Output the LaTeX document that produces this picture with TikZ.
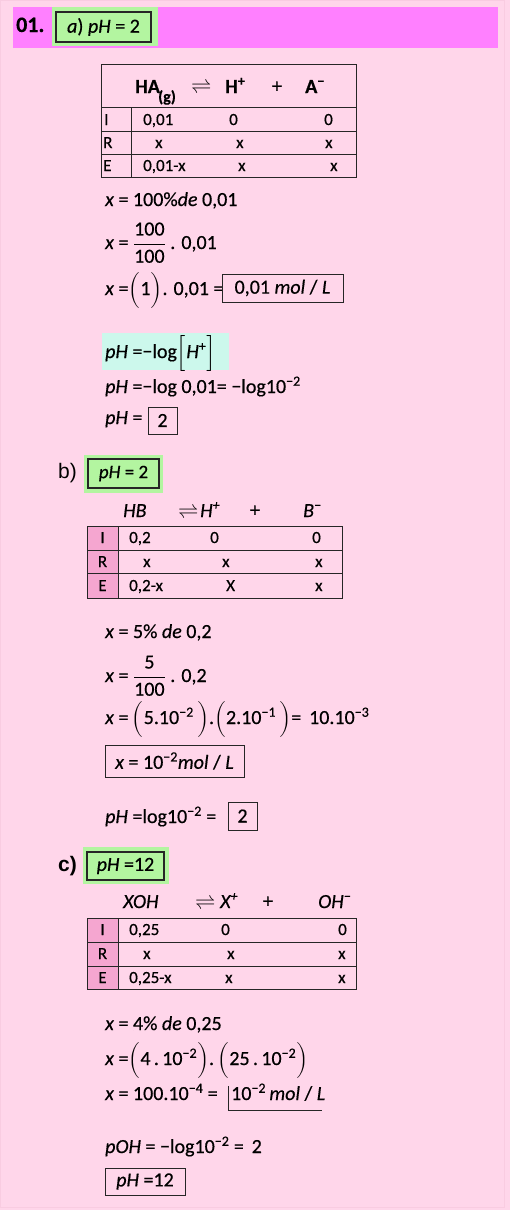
\documentclass[tikz,border=0pt]{standalone}
\usepackage{amsmath}
\usepackage{fontspec}
\usepackage{unicode-math}
\setmainfont{Carlito}[FakeBold=0.5]
\setmathfont{Latin Modern Math}
\newfontfamily\arialf{Liberation Sans}
\definecolor{bgpink}{HTML}{FFD6EA}
\definecolor{edgepink}{HTML}{F9CCE1}
\definecolor{barmag}{HTML}{FF80FF}
\definecolor{lgreen}{HTML}{B3F5A0}
\definecolor{mint}{HTML}{CCF8EC}
\definecolor{cellpink}{HTML}{F5A6D0}
\newcommand\fs[1]{\fontsize{#1}{#1}\selectfont}
\newcommand\spx[1]{\textsuperscript{#1}}
\newcommand\ii[1]{\textit{#1}}
\newcommand\lp{$\Bigl($}
\newcommand\rp{$\Bigr)$}
\begin{document}
\begin{tikzpicture}[x=1pt,y=-1pt,
  txt/.style={anchor=base west, inner sep=0pt, font=\fs{20}},
  cell/.style={anchor=base west, inner sep=0pt, font=\fs{17}},
  lett/.style={anchor=base, inner sep=0pt, font=\fs{17}},
  hdr/.style={anchor=base west, inner sep=0pt, font=\fs{20}\itshape},
  hsym/.style={inner sep=0pt, font=\fs{20}},
  boxed/.style={draw=black!85, line width=0.9pt, inner sep=0pt, font=\fs{20}},
  gbox/.style={fill=lgreen, inner sep=0pt},
  gin/.style={draw=black!85, line width=1.1pt, inner sep=0pt, font=\fs{19}},
  tline/.style={draw=black!85, line width=0.9pt}]
\useasboundingbox (0,0) rectangle (510,1210);
\fill[bgpink] (0,0) rectangle (510,1210);
\draw[edgepink, line width=1pt] (0.5,0.5) rectangle (504.5,1207);
% header
\fill[barmag] (13,7) rectangle (498,48);
\node[anchor=base west, inner sep=0pt, font=\fs{22}\bfseries] (num) at (16,32) {01.};
\node[gbox, minimum width=106pt, minimum height=39pt] (ga) at (105,26.5) {};
\node[gin, minimum width=95pt, minimum height=30pt, font=\fs{20}] (gai) at (103.5,27) {\ii{a}) \ii{pH} = 2};
% table 1
\draw[tline] (101,64) rectangle (356,177);
\draw[tline] (101,107) -- (356,107);
\draw[tline] (101,131) -- (356,131);
\draw[tline] (101,154) -- (356,154);
\draw[tline] (131,107) -- (131,177);
\node[anchor=base west, inner sep=0pt, font=\fs{20}\bfseries] (t1ha) at (135,93) {HA};
\node[anchor=base west, inner sep=0pt, font=\fs{16}\bfseries] (t1g) at (158,102) {(g)};
\node[hsym] (t1eq) at (202,86) {$\rightleftharpoons$};
\node[anchor=base west, inner sep=0pt, font=\fs{20}\bfseries] (t1h) at (225,93) {H\spx{+}};
\node[hsym] (t1p) at (277,87) {+};
\node[anchor=base west, inner sep=0pt, font=\fs{20}\bfseries] (t1a) at (305,93) {A\spx{−}};
\node[cell] (t1I) at (104,125) {I};
\node[cell] (t1R) at (103,148) {R};
\node[cell] (t1E) at (103,171) {E};
\node[cell] (t1i1) at (143,125) {0,01};
\node[cell] (t1i2) at (229,125) {0};
\node[cell] (t1i3) at (324,125) {0};
\node[cell] (t1r1) at (155,148) {x};
\node[cell] (t1r2) at (236,148) {x};
\node[cell] (t1r3) at (325,148) {x};
\node[cell] (t1e1) at (143,171) {0,01-x};
\node[cell] (t1e2) at (238,171) {x};
\node[cell] (t1e3) at (330,171) {x};
% section a
\node[txt] (a1) at (105,206) {\ii{x} = 100\%\ii{de} 0,01};
\node[txt] (a2) at (105,249) {\ii{x} = $\dfrac{\text{100}}{\text{100}}$ . 0,01};
\node[txt] (a3) at (105,295) {\ii{x} =\lp\text{1}\rp. 0,01 =};
\node[boxed, minimum width=121pt, minimum height=28pt] (a3b) at (282.5,288) {0,01 \ii{mol} / \ii{L}};
\node[fill=mint, inner sep=0pt, minimum width=127pt, minimum height=37pt] (a4bg) at (165,351.5) {};
\node[txt] (a4) at (105,358) {\ii{pH} =−log$\Bigl[$\ii{H}\spx{+}$\Bigr]$};
\node[txt] (a5) at (105,393) {\ii{pH} =−log 0,01= −log10\spx{−2}};
\node[txt] (a6) at (105,424) {\ii{pH} =};
\node[boxed, minimum width=29pt, minimum height=27pt] (a6b) at (162.5,420.5) {2};
% section b
\node[anchor=base west, inner sep=0pt, font=\arialf\fs{21}] (lb) at (58,478) {b)};
\node[gbox, minimum width=79pt, minimum height=38pt] (gb) at (123.5,474) {};
\node[gin, minimum width=71pt, minimum height=29pt] (gbi) at (123.5,473.5) {\ii{pH} = 2};
\node[hdr] (t2hb) at (123,517) {HB};
\node[hsym] (t2eq) at (189,511) {$\rightleftharpoons$};
\node[hdr] (t2h) at (200,517) {H\spx{+}};
\node[hsym] (t2p) at (255,511) {+};
\node[hdr] (t2b) at (303,517) {B\spx{−}};
\fill[cellpink] (87,526) rectangle (118,598);
\draw[tline] (87,526) rectangle (342,598);
\draw[tline] (87,550) -- (342,550);
\draw[tline] (87,573) -- (342,573);
\draw[tline] (118,526) -- (118,598);
\node[lett] (t2I) at (102.5,543) {I};
\node[lett] (t2R) at (102.5,567) {R};
\node[lett] (t2E) at (102.5,591) {E};
\node[cell] (t2i1) at (129,543) {0,2};
\node[cell] (t2i2) at (210,543) {0};
\node[cell] (t2i3) at (312,543) {0};
\node[cell] (t2r1) at (143,567) {x};
\node[cell] (t2r2) at (222,567) {x};
\node[cell] (t2r3) at (315,567) {x};
\node[cell] (t2e1) at (129,591) {0,2-x};
\node[cell] (t2e2) at (226,591) {X};
\node[cell] (t2e3) at (315,591) {x};
\node[txt] (b1) at (105,638) {\ii{x} = 5\%\ \ii{de}\ 0,2};
\node[txt] (b2) at (105,682) {\ii{x} = $\dfrac{\text{5}}{\text{100}}$ . 0,2};
\node[txt] (b3) at (105,724) {\ii{x} =\,\lp\text{5.10\spx{−2}\,}\rp.\lp\text{2.10\spx{−1}\,}\rp= \,10.10\spx{−3}};
\node[boxed, minimum width=139pt, minimum height=32pt] (b4) at (174.5,761) {\ii{x} = 10\spx{−2}\ii{mol} / \ii{L}};
\node[txt] (b5) at (105,823) {\ii{pH} =log10\spx{−2} =};
\node[boxed, minimum width=29pt, minimum height=28pt] (b5b) at (242.5,816) {2};
% section c
\node[anchor=base west, inner sep=0pt, font=\arialf\bfseries\fs{21}] (lc) at (58,871) {c)};
\node[gbox, minimum width=86pt, minimum height=37pt] (gc) at (126,865.5) {};
\node[gin, minimum width=77pt, minimum height=28pt, font=\fs{20}] (gci) at (125.5,866) {\ii{pH} =12};
\node[hdr] (t3x) at (123,908) {XOH};
\node[hsym] (t3eq) at (206,902) {$\rightleftharpoons$};
\node[hdr] (t3h) at (220,908) {X\spx{+}};
\node[hsym] (t3p) at (268,902) {+};
\node[hdr] (t3o) at (318,908) {OH\spx{−}};
\fill[cellpink] (87,918) rectangle (118,989);
\draw[tline] (87,918) rectangle (356,989);
\draw[tline] (87,942) -- (356,942);
\draw[tline] (87,966) -- (356,966);
\draw[tline] (118,918) -- (118,989);
\node[lett] (t3I) at (102.5,935) {I};
\node[lett] (t3R) at (102.5,959) {R};
\node[lett] (t3E) at (102.5,983) {E};
\node[cell] (t3i1) at (129,935) {0,25};
\node[cell] (t3i2) at (221,935) {0};
\node[cell] (t3i3) at (338,935) {0};
\node[cell] (t3r1) at (143,959) {x};
\node[cell] (t3r2) at (227,959) {x};
\node[cell] (t3r3) at (338,959) {x};
\node[cell] (t3e1) at (129,983) {0,25-x};
\node[cell] (t3e2) at (225,983) {x};
\node[cell] (t3e3) at (338,983) {x};
\node[txt] (c1) at (105,1030) {\ii{x} = 4\%\ \ii{de}\ 0,25};
\node[txt] (c2) at (105,1065) {\ii{x} =\lp\text{4\,.\,10\spx{−2}}\rp.\,\lp\text{25\,.\,10\spx{−2}}\rp};
\node[txt] (c3) at (105,1100) {\ii{x} = 100.10\spx{−4} =};
\node[txt] (c3r) at (231,1100) {10\spx{−2}\,\ii{mol} / \ii{L}};
\coordinate (c3t) at (228,1086);
\coordinate (c3c) at (228,1110);
\coordinate (c3e) at (322,1110);
\draw[tline] (c3t) -- (c3c) -- (c3e);
\node[txt] (c4) at (105,1153) {\ii{pOH} = −log10\spx{−2} =\, 2};
\node[boxed, minimum width=80pt, minimum height=27pt] (c5) at (145,1181.5) {\ii{pH} =12};
\end{tikzpicture}
\end{document}
